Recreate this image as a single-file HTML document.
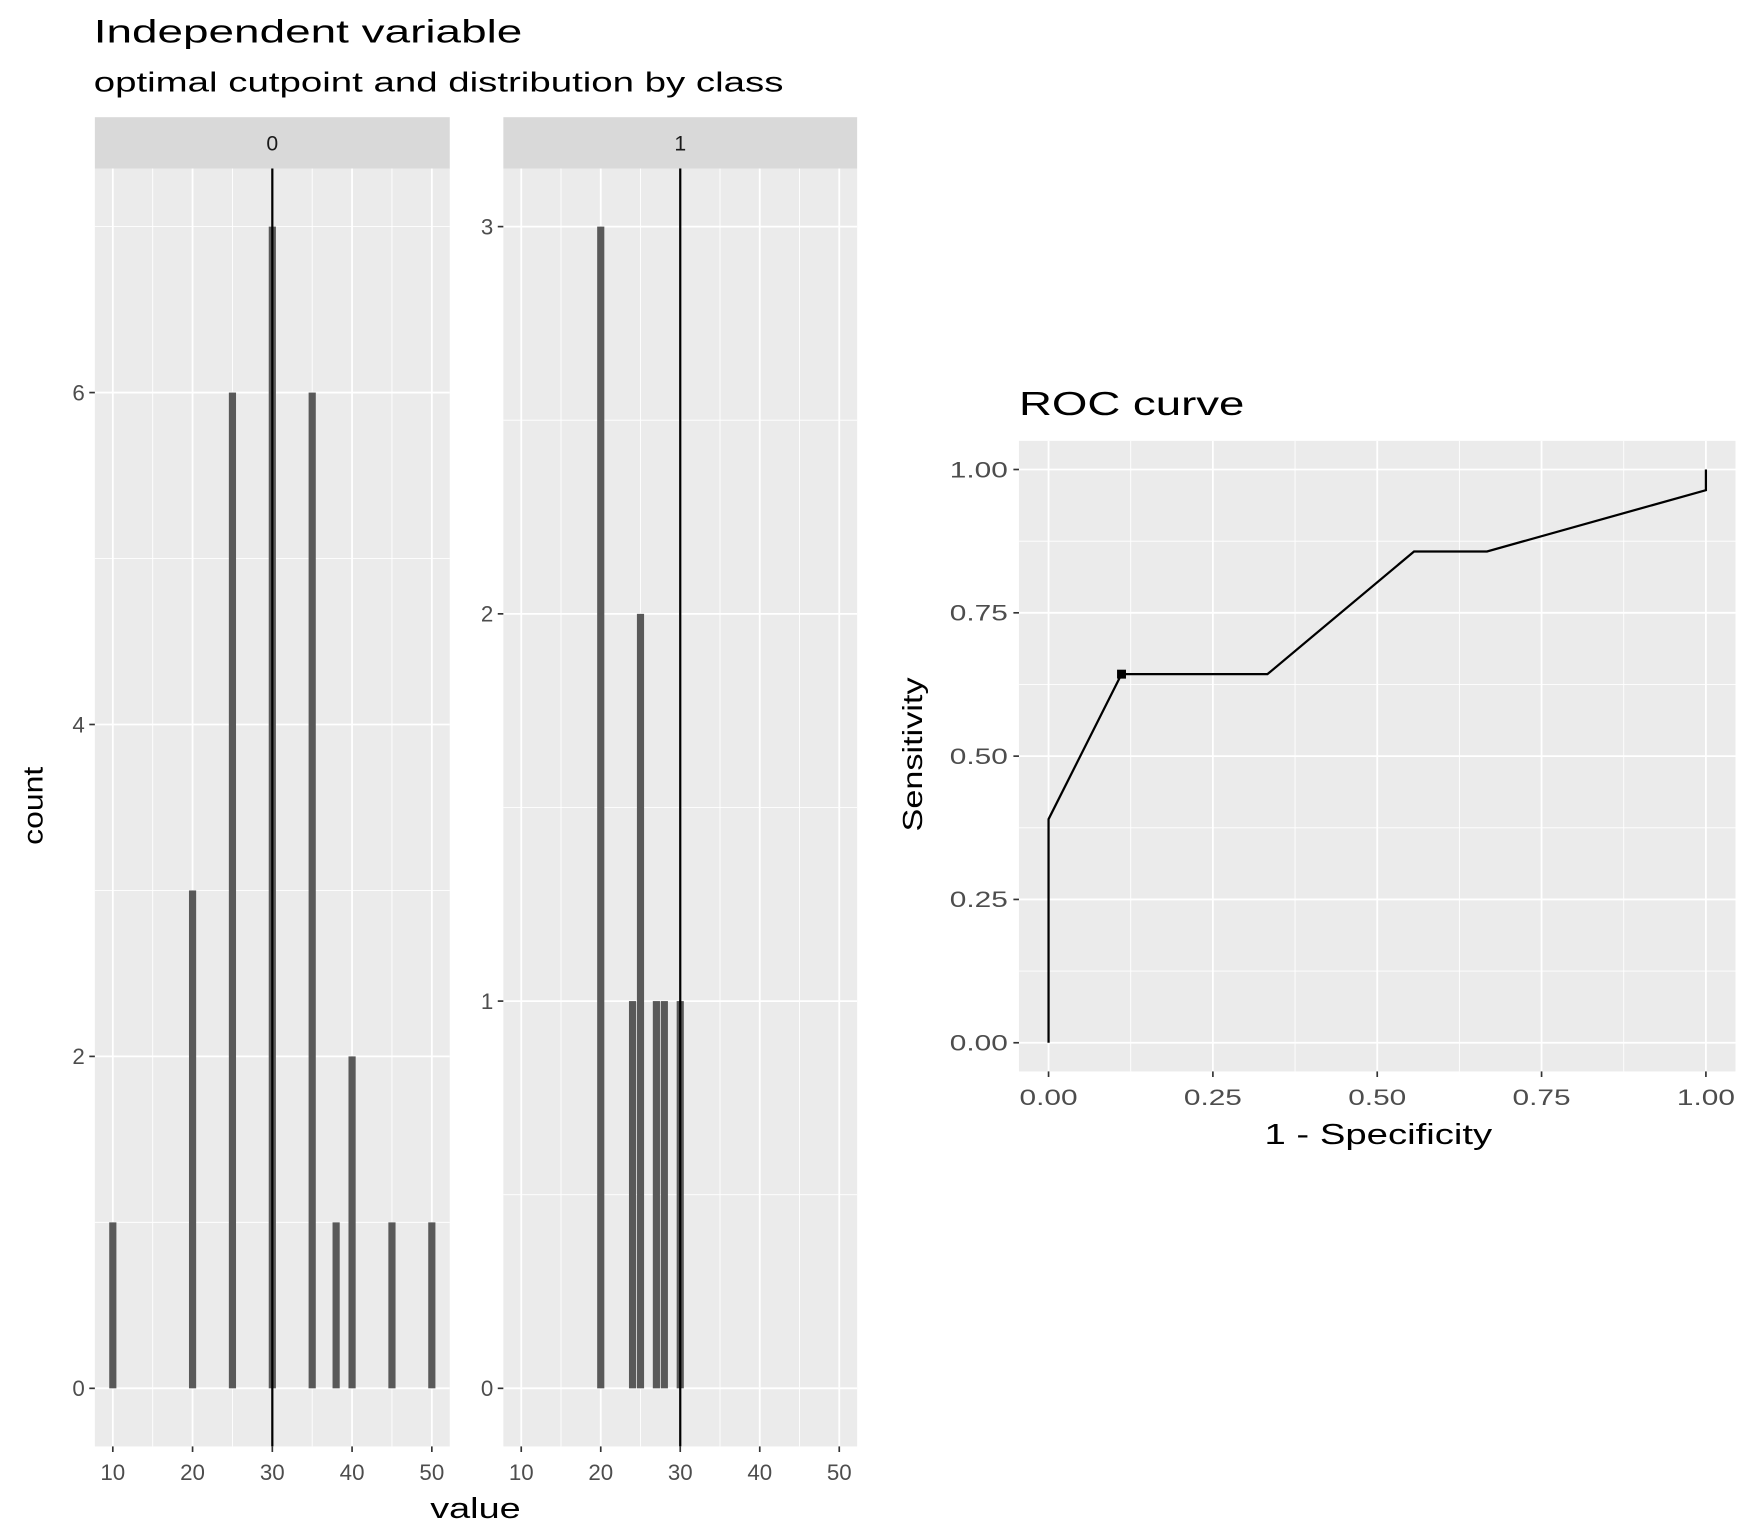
<!DOCTYPE html>
<html><head><meta charset="utf-8"><style>
html,body{margin:0;padding:0;background:#fff;}
svg{display:block;font-family:"Liberation Sans",Arial,sans-serif;}
</style></head><body>
<svg id="chart" width="1750" height="1529" viewBox="0 0 1568 1370" preserveAspectRatio="none" xmlns="http://www.w3.org/2000/svg">
<text x="84" y="38" font-size="29" textLength="384" lengthAdjust="spacingAndGlyphs" fill="#000">Independent variable</text>
<text x="84" y="82" font-size="25" textLength="618" lengthAdjust="spacingAndGlyphs" fill="#000">optimal cutpoint and distribution by class</text>
<g id="hist"></g>
<g id="roc"></g>
<text transform="translate(38,722) rotate(-90)" text-anchor="middle" font-size="25" textLength="70" lengthAdjust="spacingAndGlyphs">count</text>
<text x="426" y="1360" text-anchor="middle" font-size="26" textLength="81" lengthAdjust="spacingAndGlyphs">value</text>
<text x="913" y="372" font-size="30" textLength="202" lengthAdjust="spacingAndGlyphs">ROC curve</text>
<text x="1235" y="1025" text-anchor="middle" font-size="26" textLength="204" lengthAdjust="spacingAndGlyphs">1 - Specificity</text>
<text transform="translate(826,676) rotate(-90)" text-anchor="middle" font-size="25" textLength="138" lengthAdjust="spacingAndGlyphs">Sensitivity</text>
</svg>
<script>
const NS="http://www.w3.org/2000/svg";
// Histogram data
const class0Values=[10,20,25,30,35,38,40,45,50];
const class0Counts=[1,3,6,7,6,1,2,1,1];
const class1Values=[20,24,25,27,28,30];
const class1Counts=[3,1,2,1,1,1];
const class0YTicks=[0,2,4,6];
const class1YTicks=[0,1,2,3];
const xTicks=[10,20,30,40,50];
const cutpoint=30;
// ROC data
const rocFpr=[0,0,0.111,0.333,0.556,0.667,1,1];
const rocTpr=[0,0.39,0.643,0.643,0.857,0.857,0.964,1];
const optimalFpr=[0.111];
const optimalTpr=[0.643];
const rocTicks=[0,0.25,0.5,0.75,1];
const rocTickLabels=["0.00","0.25","0.50","0.75","1.00"];

function mk(tag,attrs,parent){const e=document.createElementNS(NS,tag);for(const k in attrs)e.setAttribute(k,attrs[k]);parent.appendChild(e);return e;}
const hist=document.getElementById('hist');
function panel(px0,px1,label,vals,counts,yticks,ymax,name){
  const py0=151,py1=1296;
  const xmin=7.75,xmax=52.25;
  const sx=v=>px0+(v-xmin)/(xmax-xmin)*(px1-px0);
  const ylo=-ymax*0.05,yhi=ymax*1.05;
  const sy=v=>py1-(v-ylo)/(yhi-ylo)*(py1-py0);
  const g=mk('g',{},hist);
  
  
  const strip=mk('rect',{x:px0,y:105,width:px1-px0,height:46,fill:'#d9d9d9'},g);
  
  
  const st=mk('text',{x:(px0+px1)/2,y:135,'text-anchor':'middle','font-size':19,fill:'#1a1a1a'},g);st.textContent=label;
  
  
  const bg=mk('rect',{x:px0,y:py0,width:px1-px0,height:py1-py0,fill:'#ebebeb'},g);
  
  
  for(let v=15;v<=45;v+=10)mk('line',{x1:sx(v),x2:sx(v),y1:py0,y2:py1,stroke:'#fff','stroke-width':0.8},g);
  const step=yticks[1]-yticks[0];
  for(let v=step/2;v<yhi;v+=step)mk('line',{x1:px0,x2:px1,y1:sy(v),y2:sy(v),stroke:'#fff','stroke-width':0.8},g);
  xTicks.forEach(v=>{mk('line',{x1:sx(v),x2:sx(v),y1:py0,y2:py1,stroke:'#fff','stroke-width':1.6},g);
    mk('line',{x1:sx(v),x2:sx(v),y1:py1,y2:py1+5,stroke:'#333','stroke-width':1.5},g);
    const t=mk('text',{x:sx(v),y:py1+30,'text-anchor':'middle','font-size':20,fill:'#4d4d4d'},g);t.textContent=v;
    
    });
  yticks.forEach(v=>{mk('line',{x1:px0,x2:px1,y1:sy(v),y2:sy(v),stroke:'#fff','stroke-width':1.6},g);
    mk('line',{x1:px0-5,x2:px0,y1:sy(v),y2:sy(v),stroke:'#333','stroke-width':1.5},g);
    const t=mk('text',{x:px0-9,y:sy(v)+7,'text-anchor':'end','font-size':20,fill:'#4d4d4d'},g);t.textContent=v;
    
    });
  vals.forEach((v,i)=>{const w=0.9;
    const b=mk('rect',{x:sx(v-w/2),y:sy(counts[i]),width:sx(v+w/2)-sx(v-w/2),height:sy(0)-sy(counts[i]),fill:'#595959'},g);
    
    });
  const cl=mk('line',{x1:sx(cutpoint),x2:sx(cutpoint),y1:py0,y2:py1,stroke:'#000','stroke-width':2},g);
  
  
}
panel(85,403,'0',class0Values,class0Counts,class0YTicks,7,'panel-class-0');
panel(451,768,'1',class1Values,class1Counts,class1YTicks,3,'panel-class-1');

// ROC
const roc=document.getElementById('roc');
const rx0=913,rx1=1555,ry0=395,ry1=960;
const rsx=v=>rx0+(v+0.045)/1.09*(rx1-rx0);
const rsy=v=>ry1-(v+0.05)/1.1*(ry1-ry0);
const rbg=mk('rect',{x:rx0,y:ry0,width:rx1-rx0,height:ry1-ry0,fill:'#ebebeb'},roc);


for(let v=0.125;v<1;v+=0.25){mk('line',{x1:rsx(v),x2:rsx(v),y1:ry0,y2:ry1,stroke:'#fff','stroke-width':0.8},roc);mk('line',{x1:rx0,x2:rx1,y1:rsy(v),y2:rsy(v),stroke:'#fff','stroke-width':0.8},roc);}
rocTicks.forEach((v,i)=>{
  mk('line',{x1:rsx(v),x2:rsx(v),y1:ry0,y2:ry1,stroke:'#fff','stroke-width':1.6},roc);
  mk('line',{x1:rx0,x2:rx1,y1:rsy(v),y2:rsy(v),stroke:'#fff','stroke-width':1.6},roc);
  mk('line',{x1:rsx(v),x2:rsx(v),y1:ry1,y2:ry1+5,stroke:'#333','stroke-width':1.5},roc);
  mk('line',{x1:rx0-5,x2:rx0,y1:rsy(v),y2:rsy(v),stroke:'#333','stroke-width':1.5},roc);
  const tx=mk('text',{x:rsx(v),y:ry1+30,'text-anchor':'middle','font-size':20,textLength:52,lengthAdjust:'spacingAndGlyphs',fill:'#4d4d4d'},roc);tx.textContent=rocTickLabels[i];
  
  
  const ty=mk('text',{x:rx0-10,y:rsy(v)+7,'text-anchor':'end','font-size':20,textLength:52,lengthAdjust:'spacingAndGlyphs',fill:'#4d4d4d'},roc);ty.textContent=rocTickLabels[i];
  
  
});
const pts=rocFpr.map((f,i)=>rsx(f)+','+rsy(rocTpr[i])).join(' ');
const pl=mk('polyline',{points:pts,fill:'none',stroke:'#000','stroke-width':2},roc);


optimalFpr.forEach((f,i)=>{
  const p=mk('rect',{x:rsx(f)-4,y:rsy(optimalTpr[i])-4,width:8,height:8,fill:'#000'},roc);
  
  
});
</script>
</body></html>
